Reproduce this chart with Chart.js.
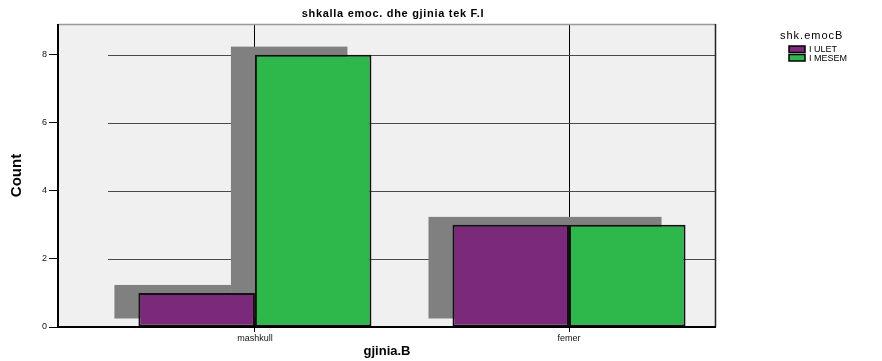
<!DOCTYPE html>
<html>
<head>
<meta charset="utf-8">
<script src="https://cdn.jsdelivr.net/npm/chart.js@4/dist/chart.umd.min.js"></script>
<style>
  html, body { margin: 0; padding: 0; background: #ffffff; }
  #wrap { width: 882px; height: 361px; position: relative; }
</style>
</head>
<body>
<div id="wrap"><canvas id="c" width="882" height="361"></canvas></div>
<script>
// Counts by gender (gjinia.B) and emotional scale level (shk.emocB)
const categories = ['mashkull', 'femer'];
const seriesNames = ['I ULET', 'I MESEM'];
const uletCounts = [1, 3];
const mesemCounts = [8, 3];
const yTicks = [0, 2, 4, 6, 8];

const chartTitle = 'shkalla emoc. dhe gjinia tek F.I';
const xTitle = 'gjinia.B';
const yTitle = 'Count';
const legendTitle = 'shk.emocB';

const colors = ['#7b2a7b', '#2eb84b'];
const FONT = "'Liberation Sans', Arial, sans-serif";

const toPoints = vals => vals.map((v, i) => ({ x: i, y: v }));

// plot frame: grey panel, coloured edges, partial horizontal grid and drop shadows
const framePlugin = {
  id: 'frame',
  beforeDraw(chart) {
    const { ctx, chartArea: a } = chart;
    ctx.save();
    ctx.fillStyle = '#f0f0f0';
    ctx.fillRect(a.left, a.top, a.right - a.left, a.bottom - a.top);
    ctx.restore();
  },
  beforeDatasetsDraw(chart) {
    const { ctx, chartArea: a, scales } = chart;
    ctx.save();
    // horizontal grid lines
    ctx.strokeStyle = '#4a4a4a';
    ctx.lineWidth = 1;
    const gx0 = a.left + 50;
    yTicks.forEach(t => {
      if (t === 0) return;
      const y = Math.round(scales.y.getPixelForValue(t)) + 0.5;
      ctx.beginPath();
      ctx.moveTo(gx0, y);
      ctx.lineTo(a.right, y);
      ctx.stroke();
    });
    // drop shadows behind every bar
    ctx.fillStyle = '#808080';
    const dx = -24, dy = -8;
    chart.data.datasets.forEach((ds, di) => {
      const meta = chart.getDatasetMeta(di);
      meta.data.forEach(bar => {
        const p = bar.getProps(['x', 'y', 'base', 'width'], true);
        ctx.fillRect(p.x - p.width / 2 + dx, p.y + dy, p.width, p.base - p.y);
      });
    });
    ctx.restore();
  },
  afterDraw(chart) {
    const { ctx, chartArea: a } = chart;
    ctx.save();
    // frame edges
    ctx.lineWidth = 1.5;
    ctx.strokeStyle = '#9a9a9a';
    ctx.beginPath(); ctx.moveTo(a.left, a.top + 0.5); ctx.lineTo(a.right, a.top + 0.5); ctx.stroke();
    ctx.strokeStyle = '#222222';
    ctx.beginPath(); ctx.moveTo(a.right - 0.5, a.top); ctx.lineTo(a.right - 0.5, a.bottom); ctx.stroke();
    ctx.lineWidth = 2;
    ctx.strokeStyle = '#000000';
    ctx.beginPath(); ctx.moveTo(a.left, a.top); ctx.lineTo(a.left, a.bottom); ctx.lineTo(a.right, a.bottom); ctx.stroke();

    // title
    ctx.fillStyle = '#000000';
    ctx.textAlign = 'center';
    ctx.textBaseline = 'middle';
    ctx.font = 'bold 11px ' + FONT;
    ctx.letterSpacing = '0.7px';
    ctx.fillText(chartTitle, (a.left + a.right) / 2 + 6, 14);

    // legend
    ctx.textAlign = 'left';
    ctx.font = '11px ' + FONT;
    ctx.letterSpacing = '1px';
    ctx.fillText(legendTitle, 780, 36);
    ctx.font = '9px ' + FONT;
    ctx.letterSpacing = '0px';
    seriesNames.forEach((name, i) => {
      const y = 46 + i * 8.5;
      ctx.fillStyle = colors[i];
      ctx.fillRect(789, y, 16, 6.5);
      ctx.strokeStyle = '#000000';
      ctx.lineWidth = 1.5;
      ctx.strokeRect(789, y, 16, 6.5);
      ctx.fillStyle = '#000000';
      ctx.fillText(name, 809, y + 3.8);
    });
    ctx.restore();
  }
};

new Chart(document.getElementById('c'), {
  type: 'bar',
  data: {
    datasets: [
      { label: seriesNames[0], data: toPoints(uletCounts), backgroundColor: colors[0] },
      { label: seriesNames[1], data: toPoints(mesemCounts), backgroundColor: colors[1] }
    ]
  },
  options: {
    responsive: false,
    animation: false,
    layout: { padding: { left: 0, right: 166, top: 24, bottom: 0 } },
    datasets: {
      bar: {
        borderColor: '#111111',
        borderWidth: 2,
        borderSkipped: false,
        categoryPercentage: 0.742,
        barPercentage: 1,
        grouped: true
      }
    },
    plugins: {
      legend: { display: false },
      title: { display: false },
      tooltip: { enabled: false }
    },
    scales: {
      x: {
        type: 'linear',
        min: -0.627,
        max: 1.468,
        offset: false,
        afterBuildTicks(scale) {
          scale.ticks = categories.map((c, i) => ({ value: i }));
        },
        afterFit(scale) { scale.height = 34; },
        ticks: {
          callback: v => categories[v] ?? '',
          font: { family: FONT, size: 9 },
          color: '#111111',
          padding: 1,
          maxRotation: 0,
          autoSkip: false
        },
        grid: { color: '#000000', lineWidth: 1, tickLength: 5, drawOnChartArea: true, offset: false },
        border: { display: false },
        title: {
          display: true,
          text: xTitle,
          font: { family: FONT, size: 13, weight: 'bold' },
          color: '#000000',
          padding: { top: 0, bottom: 2 }
        }
      },
      y: {
        min: 0,
        max: 8.9,
        afterBuildTicks(scale) {
          scale.ticks = yTicks.map(v => ({ value: v }));
        },
        afterFit(scale) { scale.width = 58; },
        ticks: {
          font: { family: FONT, size: 9 },
          color: '#111111',
          padding: 2
        },
        grid: { drawOnChartArea: false, color: '#000000', tickLength: 9 },
        border: { display: false },
        title: {
          display: true,
          text: yTitle,
          font: { family: "'Liberation Sans Narrow', 'Liberation Sans', Arial, sans-serif", size: 15, weight: 'bold' },
          color: '#000000',
          padding: { top: 8, bottom: 0 }
        }
      }
    }
  },
  plugins: [framePlugin]
});
</script>
</body>
</html>
